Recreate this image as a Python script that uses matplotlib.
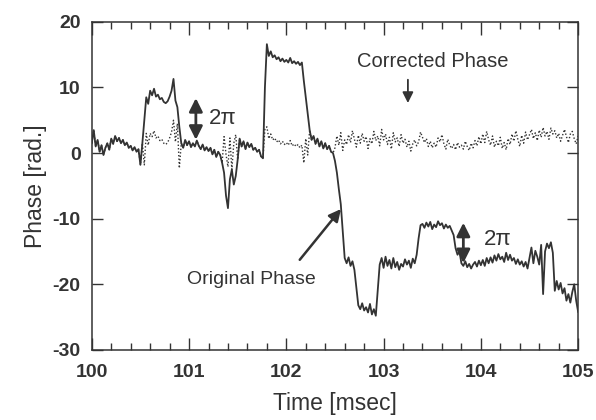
import numpy as np
import matplotlib
matplotlib.use('Agg')
import matplotlib.pyplot as plt

plt.rcParams['font.family'] = ['Liberation Sans', 'DejaVu Sans']
plt.rcParams['axes.unicode_minus'] = False

# phase samples every 0.02 msec from 100 to 105 msec
original_phase = [
    1.5, 3.5, 1.0, 2.0, 0.2, 1.2, -0.3, 0.8, 1.5, 0.5, 2.2, 1.4, 2.6, 1.8, 2.3, 1.5, 2.0, 1.2, 1.6, 0.8,
    1.1, 0.4, 0.9, 0.2, 0.6, -1.8,
    1.5, 5.0, 8.5, 7.5, 9.5, 8.8, 9.8, 8.6, 8.9, 8.2, 8.4, 7.8, 7.6, 7.9, 8.6, 9.5, 11.3, 8.0, 7.0, 4.0, 1.5,
    0.8, 2.0, 1.2, 1.8, 0.9, 1.5, 1.0, 1.9, 1.1, 0.6, 1.3, 0.4, 0.9, 0.3, 0.8, -0.2, 0.5, -0.6, 0.2, -0.3, -1.5,
    -3.0, -6.5, -8.4, -4.0, -2.5, -4.8, -3.5, -1.0, 2.2, 1.0, 1.8, 0.6, 1.6, 0.9, 1.4, 0.5, 0.8, 0.2, 0.5, -0.5, -0.8,
    10.0, 16.6, 14.8, 15.5, 14.6, 14.9, 14.3, 14.6, 14.0, 14.4, 13.9, 14.2, 13.8, 14.5, 13.7, 14.0, 13.6, 13.9,
    13.4, 13.8, 11.0, 8.5, 6.0, 3.5, 2.0,
    2.6, 1.4, 2.2, 1.0, 1.8, 0.7, 1.5, 0.6, 1.1, 0.2, 0.0,
    -1.2, -3.0, -5.5, -7.8, -12.0, -16.0, -16.8, -15.9, -17.2, -16.5, -17.8, -20.5, -23.2, -23.8, -22.9, -24.0,
    -23.5, -24.3, -23.0, -24.6, -23.8, -24.8,
    -21.0, -17.0, -16.0, -17.5, -15.8, -17.2, -16.3, -17.6, -16.0, -17.4, -16.6, -17.8, -16.9, -17.3, -16.2,
    -17.0, -16.4, -17.5, -16.1, -16.8, -15.5,
    -13.0, -11.0, -10.8, -11.4, -10.6, -11.2, -10.5, -11.6, -10.9, -11.3, -10.4, -11.0, -10.7, -11.5, -10.9,
    -11.4, -11.1, -11.8, -12.5, -14.5, -15.5, -15.0,
    -16.8, -17.2, -16.5, -17.4, -16.9, -17.6, -17.0, -16.6, -17.3, -16.4, -17.1, -16.3, -17.2, -16.0, -16.8,
    -15.9, -16.7, -15.6, -16.4, -15.4, -16.2, -15.8, -16.6, -15.2, -16.3, -15.5, -16.4, -16.0, -16.9, -16.2,
    -17.0, -16.5, -17.3, -16.6, -17.6,
    -16.0, -14.4, -16.8, -14.9, -15.8, -17.0, -14.0, -21.5, -15.0, -13.8, -14.5, -13.6, -15.2, -21.0, -19.5,
    -20.8, -19.8, -21.4, -20.6, -22.5, -21.5, -22.8, -21.2, -20.0, -22.5, -24.2,
]

corrected_phase = [
    1.5, 3.5, 1.0, 2.0, 0.2, 1.2, -0.3, 0.8, 1.5, 0.5, 2.2, 1.4, 2.6, 1.8, 2.3, 1.5, 2.0, 1.2, 1.6, 0.8,
    1.1, 0.4, 0.9, 0.2, 0.6, -1.8,
    1.5, -1.8, 3.0, 1.2, 3.0, 2.5, 3.4, 2.3, 2.6, 1.9, 2.1, 1.5, 1.3, 1.6, 2.3, 3.2, 5.0, 1.7, 4.5, -2.3, 1.5,
    0.8, 2.0, 1.2, 1.8, 0.9, 1.5, 1.0, 1.9, 1.1, 0.6, 1.3, 0.4, 0.9, 0.3, 0.8, -0.2, 0.5, -0.6, 0.2, -0.3, -1.5,
    2.5, -0.2, -2.1, 2.3, -2.5, 1.5, 2.8, -1.0, 2.2, 1.0, 1.8, 0.6, 1.6, 0.9, 1.4, 0.5, 0.8, 0.2, 0.5, -0.5, -0.8,
    3.7, 4.0, 2.2, 2.9, 2.0, 2.3, 1.7, 2.0, 1.4, 1.8, 1.3, 1.6, 1.2, 1.9, 1.1, 1.4, 1.0, 1.3,
    0.8, 1.2, -1.5, 2.2, -0.3, 3.5, 2.0,
    2.6, 1.4, 2.2, 1.0, 1.8, 0.7, 1.5, 0.6, 1.1, 0.2, 0.0,
    0.8, 2.6, 1.2, 3.1, 0.4, 2.0, 1.3, 2.8, 1.6, 3.4,
    2.1, 0.9, 2.7, 1.5, 3.0, 1.8, 2.5, 0.7, 2.2, 1.4,
    3.3, 1.9, 2.6, 1.1, 3.6, 2.0, 2.9, 1.3, 2.4, 0.6,
    3.1, 1.7, 2.3, 1.0, 2.8, 1.5, 2.1, 0.9, 1.8, 0.3,
    1.4, 2.0, 1.1, 1.7, 3.2, 2.4, 1.6, 2.2, 1.0, 1.8,
    0.8, 1.5, 0.9, 2.3, 1.7, 2.8, 1.4, 0.6, 2.1, 1.2,
    0.7, 1.3, 0.5, 1.6, 0.9, 1.2, 0.6, 1.8, 1.0, 0.4,
    1.5, 0.8, 1.9, 1.1, 2.5, 1.4, 2.9, 1.6, 3.3, 2.0,
    1.2, 2.6, 0.9, 1.8, 1.1, 2.4, 0.7, 1.6, 0.5, 2.2,
    1.3, 2.9, 1.8, 3.4, 2.1, 1.0, 2.7, 1.5, 3.2, 2.0,
    2.8, 3.6, 2.2, 3.1, 1.9, 3.5, 2.4, 3.9, 2.6, 3.3,
    2.1, 3.8, 2.9, 3.4, 2.3, 3.0, 1.8, 2.7, 3.6, 2.5,
    1.6, 2.9, 3.3, 2.2, 1.4, 2.6,
]

time = np.linspace(100, 105, len(original_phase))

ink = '#333333'

fig = plt.figure(figsize=(5.96, 4.2), dpi=100)
ax = fig.add_axes([0.154, 0.167, 0.816, 0.781])

ax.plot(time, corrected_phase, color=ink, lw=1.0, linestyle=(0, (1, 1.5)))
ax.plot(time, original_phase, color=ink, lw=1.3)

ax.set_xlim(100, 105)
ax.set_ylim(-30, 20)
ax.set_xticks([100, 101, 102, 103, 104, 105])
ax.set_xticks(np.arange(100, 105.01, 0.2), minor=True)
ax.set_yticks([-30, -20, -10, 0, 10, 20])

ax.tick_params(axis='both', which='both', direction='in', top=True, right=True,
               colors=ink, labelcolor=ink, width=1.0)
ax.tick_params(axis='x', which='major', length=9, pad=10)
ax.tick_params(axis='x', which='minor', length=5)
ax.tick_params(axis='y', which='major', length=8, pad=8)
for lab in ax.get_xticklabels() + ax.get_yticklabels():
    lab.set_fontsize(14)
    lab.set_fontweight('bold')
for sp in ax.spines.values():
    sp.set_color(ink)
    sp.set_linewidth(1.1)

ax.set_xlabel('Time [msec]', fontsize=16.5, color=ink, labelpad=8)
ax.set_ylabel('Phase [rad.]', fontsize=16.5, color=ink, labelpad=4)

# annotations
ax.text(103.51, 13.9, 'Corrected Phase', fontsize=14.5, color=ink, ha='center', va='center')
ax.annotate('', xy=(103.25, 7.2), xytext=(103.25, 11.6),
            arrowprops=dict(arrowstyle='-|>', color=ink, lw=1.3, mutation_scale=16))

ax.text(101.64, -19.3, 'Original Phase', fontsize=14, color=ink, ha='center', va='center')
ax.annotate('', xy=(102.58, -8.2), xytext=(102.12, -16.6),
            arrowprops=dict(arrowstyle='-|>', color=ink, lw=1.8, mutation_scale=18))

ax.annotate('', xy=(101.07, 8.8), xytext=(101.07, 1.6),
            arrowprops=dict(arrowstyle='<|-|>', color=ink, lw=2.0, mutation_scale=20))
ax.text(101.35, 5.3, '2π', fontsize=16, color=ink, ha='center', va='center')

ax.annotate('', xy=(103.82, -10.2), xytext=(103.82, -17.2),
            arrowprops=dict(arrowstyle='<|-|>', color=ink, lw=2.0, mutation_scale=20))
ax.text(104.17, -13.2, '2π', fontsize=16, color=ink, ha='center', va='center')

plt.savefig('out.png', dpi=100)
plt.close()
